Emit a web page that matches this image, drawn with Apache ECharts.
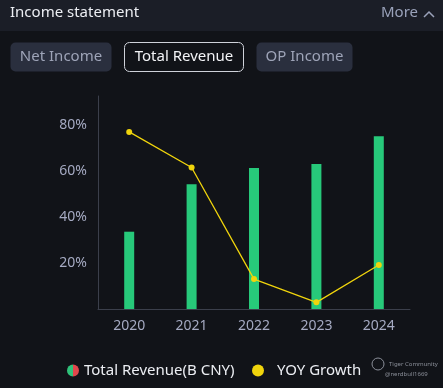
<!DOCTYPE html>
<html>
<head>
<meta charset="utf-8">
<script src="https://cdn.jsdelivr.net/npm/echarts@6/dist/echarts.min.js"></script>
<style>
html,body{margin:0;padding:0;background:#111318;}
#c{width:443px;height:388px;}
</style>
</head>
<body>
<div id="c"></div>
<script>
const years = ['2020', '2021', '2022', '2023', '2024'];
const revenue = [12.0, 19.38, 21.9, 22.53, 26.83];
const yoyGrowth = [77.0, 61.5, 13.0, 2.9, 19.1];
const pctTicks = [20, 40, 60, 80];
const tabs = ['Net Income', 'Total Revenue', 'OP Income'];

const chart = echarts.init(document.getElementById('c'), null, {renderer: 'canvas'});
const font = '"Noto Sans", "Open Sans", sans-serif';
const axisLabelColor = '#a5aac2';

const tabBoxes = [
  {x: 10, w: 101, active: false},
  {x: 124, w: 119, active: true},
  {x: 256, w: 96, active: false}
];
const graphics = [
  {type: 'rect', shape: {x: 0, y: 0, width: 443, height: 31}, style: {fill: '#1b1e27'}, silent: true},
  {type: 'text', left: 10, top: 5, style: {text: 'Income statement', fill: '#eceef3', font: '15px ' + font}},
  {type: 'text', left: 381, top: 5, style: {text: 'More', fill: '#9aa2ba', font: '15px ' + font}},
  {type: 'polyline', shape: {points: [[424, 17], [429, 12], [434, 17]]}, style: {stroke: '#9aa2ba', lineWidth: 1.5, fill: null}},
];
tabs.forEach((t, i) => {
  const b = tabBoxes[i];
  graphics.push({
    type: 'rect', shape: {x: b.x + 0.5, y: 42.5, width: b.w, height: 29, r: 5},
    style: b.active ? {fill: '#111318', stroke: '#cfd2da', lineWidth: 1} : {fill: '#2a2f3e'}
  });
  graphics.push({
    type: 'text', x: b.x + b.w / 2 + 0.5, y: 57,
    style: {text: t, fill: b.active ? '#f2f3f6' : '#9ea4b8', font: '15px ' + font, align: 'center', verticalAlign: 'middle'}
  });
});
// watermark
graphics.push({type: 'circle', shape: {cx: 378, cy: 364, r: 6}, style: {fill: null, stroke: '#8a8e98', lineWidth: 1}});
graphics.push({type: 'text', left: 389, top: 361, style: {text: 'Tiger Community', fill: '#8a8e98', font: '6px ' + font}});
graphics.push({type: 'text', left: 385, top: 371, style: {text: '@nerdbull1669', fill: '#8a8e98', font: '6px ' + font}});

const splitIcon = new echarts.graphic.LinearGradient(0, 0, 1, 0, [
  {offset: 0, color: '#2fc27a'}, {offset: 0.5, color: '#2fc27a'},
  {offset: 0.5, color: '#e0474c'}, {offset: 1, color: '#e0474c'}
]);

chart.setOption({
  backgroundColor: '#111318',
  animation: false,
  graphic: graphics,
  grid: {left: 98, right: 33, top: 96, bottom: 79, containLabel: false},
  legend: [
    {
      left: 67, top: 363, padding: 0, itemWidth: 12, itemHeight: 12, icon: 'circle',
      data: [{name: 'Total Revenue(B CNY)', itemStyle: {color: splitIcon}}],
      textStyle: {color: '#eceef3', fontSize: 15, fontFamily: font}
    },
    {
      left: 252, top: 363, padding: 0, itemWidth: 12, itemHeight: 12, icon: 'circle',
      data: ['YOY Growth'],
      textStyle: {color: '#eceef3', fontSize: 15, fontFamily: font, padding: [0, 0, 0, 8]}
    }
  ],
  xAxis: {
    type: 'category',
    data: years,
    axisLine: {lineStyle: {color: '#3b3f4b'}},
    axisTick: {show: false},
    axisLabel: {color: axisLabelColor, fontSize: 14, fontFamily: font, margin: 10}
  },
  yAxis: [
    {
      type: 'value', min: 0, max: 92.6, interval: 20,
      axisLine: {show: true, lineStyle: {color: '#3b3f4b'}},
      axisTick: {show: false},
      splitLine: {show: false},
      axisLabel: {
        color: axisLabelColor, fontSize: 14, fontFamily: font, margin: 11,
        formatter: v => pctTicks.includes(v) ? v + '%' : ''
      }
    },
    {
      type: 'value', min: 0, max: 33.07, show: false, splitLine: {show: false}
    }
  ],
  series: [
    {
      name: 'Total Revenue(B CNY)', type: 'bar', yAxisIndex: 1,
      data: revenue, barWidth: 10,
      itemStyle: {color: '#27c97a'}
    },
    {
      name: 'YOY Growth', type: 'line', yAxisIndex: 0,
      data: yoyGrowth, symbol: 'circle', symbolSize: 6,
      lineStyle: {color: '#f0d40c', width: 1.3},
      itemStyle: {color: '#f0d40c'}
    }
  ]
});
</script>
</body>
</html>
